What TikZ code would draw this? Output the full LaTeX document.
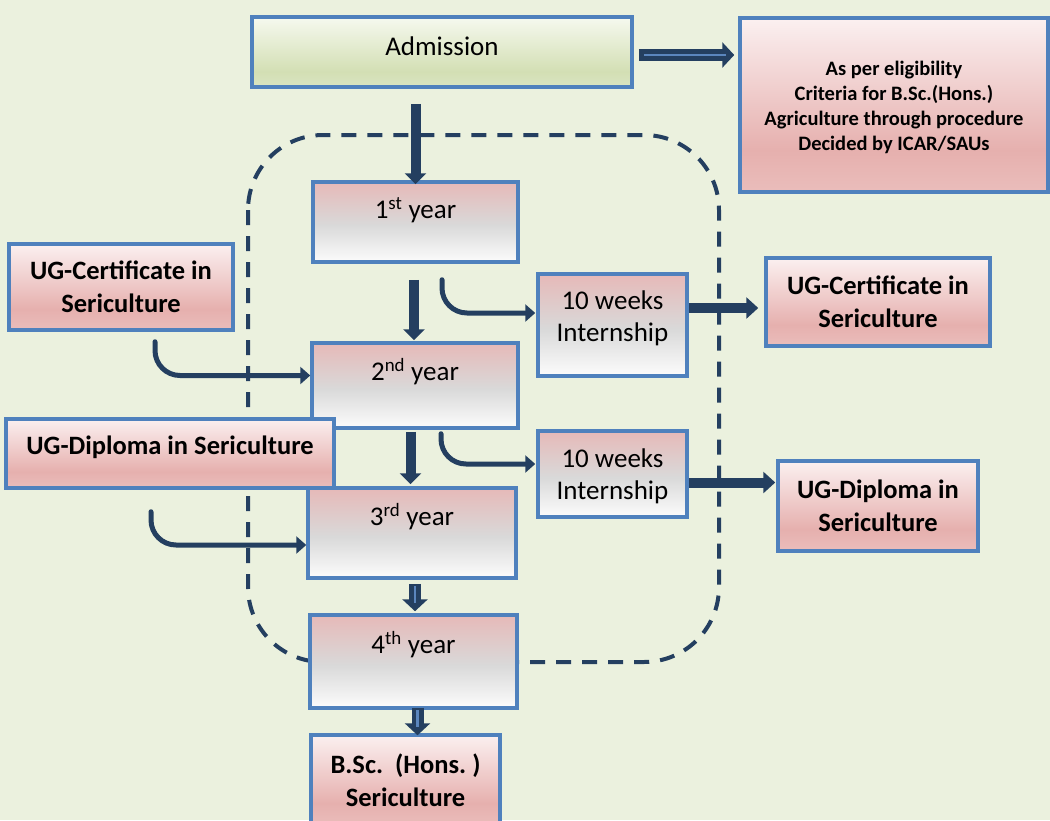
\documentclass[tikz,border=0pt]{standalone}
\usepackage{fontspec}
\setmainfont{Carlito}
\usetikzlibrary{arrows.meta,calc}
\definecolor{bg}{HTML}{EBF1DE}
\definecolor{bord}{HTML}{4F81BD}
\definecolor{navy}{HTML}{243F60}
\definecolor{lite}{HTML}{5B86BE}
\definecolor{yrtop}{HTML}{E6B9B8}
\definecolor{yrmid}{HTML}{D9D9D9}
\definecolor{yrbot}{HTML}{FCFCFC}
\definecolor{pktop}{HTML}{FBF0F0}
\definecolor{pkmid}{HTML}{E6B0AE}
\definecolor{pkbot}{HTML}{EABDBB}
\definecolor{grtop}{HTML}{F6F9EF}
\definecolor{grmid}{HTML}{D3DFB4}
\definecolor{grbot}{HTML}{DAE5C2}
\pgfdeclareverticalshading{yrshade}{100bp}{color(0bp)=(yrbot); color(25bp)=(yrbot); color(48bp)=(yrmid); color(75bp)=(yrtop); color(100bp)=(yrtop)}
\pgfdeclareverticalshading{pkshade}{100bp}{color(0bp)=(pkbot); color(25bp)=(pkbot); color(37bp)=(pkmid); color(75bp)=(pktop); color(100bp)=(pktop)}
\pgfdeclareverticalshading{grshade}{100bp}{color(0bp)=(grbot); color(25bp)=(grbot); color(36bp)=(grmid); color(75bp)=(grtop); color(100bp)=(grtop)}
\tikzset{
  box/.style={draw=bord, line width=3.5pt, inner sep=0pt, align=center},
  yearbox/.style={box, shading=yrshade},
  pinkbox/.style={box, shading=pkshade, font=\bfseries\fontsize{26.5}{33}\selectfont},
  greenbox/.style={box, shading=grshade},
  txt/.style={inner sep=0pt, align=center, font=\fontsize{27}{32}\selectfont},
  btxt/.style={inner sep=0pt, align=center, font=\bfseries\fontsize{26.5}{33}\selectfont},
  downarr/.style={draw=navy, line width=10pt, -{Triangle[length=11pt,width=21pt]}},
  dblarr/.style={draw=navy, line width=12pt, -{Triangle[length=12pt,width=25pt]}},
  inln/.style={draw=lite, line width=2.5pt},
  rarr/.style={draw=navy, line width=10pt, -{Triangle[length=12pt,width=21pt]}},
  curvearr/.style={draw=navy, line width=5pt, rounded corners=25pt, line cap=round, -{Triangle[length=10pt,width=17pt]}},
  dashbox/.style={draw=navy, line width=4pt, dash pattern=on 15pt off 11pt, rounded corners=75pt}
}
\begin{document}
\begin{tikzpicture}[x=1pt,y=-1pt]
\useasboundingbox (0,0) rectangle (1050,820);
\clip (0,0) rectangle (1050,820);
\fill[bg] (0,0) rectangle (1050,820);
% dashed region
\draw[dashbox] (248,135) rectangle (719,662);
% boxes
\node[greenbox, minimum width=380pt, minimum height=70pt] (adm) at (442,52) {};
\node[txt] (admt) at (442,46) {Admission};
\node[pinkbox, minimum width=308pt, minimum height=174pt] (elig) at (894,105) {};
\node[inner sep=0pt, align=center, font=\bfseries\fontsize{20.5}{25}\selectfont] (eligt) at (894,107.5) {As per eligibility\\Criteria for B.Sc.(Hons.)\\Agriculture through procedure\\Decided by ICAR/SAUs};
\node[yearbox, minimum width=205pt, minimum height=80pt] (y1) at (415.5,222) {};
\node[txt] (y1t) at (415.5,210) {1\textsuperscript{st} year};
\node[yearbox, minimum width=149pt, minimum height=102pt] (int1) at (612.5,325) {};
\node[txt] (int1t) at (612.5,318.5) {10 weeks\\Internship};
\node[pinkbox, minimum width=224pt, minimum height=88pt] (certR) at (878,302) {UG-Certificate in\\Sericulture};
\node[pinkbox, minimum width=224pt, minimum height=86pt] (certL) at (121,287) {UG-Certificate in\\Sericulture};
\node[yearbox, minimum width=206pt, minimum height=85pt] (y2) at (415,385.5) {};
\node[txt] (y2t) at (415,372) {2\textsuperscript{nd} year};
\node[yearbox, minimum width=149pt, minimum height=86pt] (int2) at (612.5,474) {};
\node[txt] (int2t) at (612.5,476) {10 weeks\\Internship};
\node[pinkbox, minimum width=200pt, minimum height=90pt] (dipR) at (878,506) {UG-Diploma in\\Sericulture};
\node[yearbox, minimum width=208pt, minimum height=90pt] (y3) at (412,533) {};
\node[txt] (y3t) at (412,517) {3\textsuperscript{rd} year};
\node[pinkbox, minimum width=328pt, minimum height=69pt] (dipL) at (170,453.5) {};
\node[btxt] (dipLt) at (170,447) {UG-Diploma in Sericulture};
\node[yearbox, minimum width=207pt, minimum height=93pt] (y4) at (413.5,661.5) {};
\node[txt] (y4t) at (413.5,645) {4\textsuperscript{th} year};
\node[pinkbox, minimum width=189pt, minimum height=90pt] (bsc) at (405.5,780) {B.Sc.\ \ (Hons.~)\\Sericulture};
% straight arrows
\draw[dblarr] ($(adm.east)+(5,3)$) coordinate (ae1) -- ($(ae1 -| elig.west)+(-4,0)$) coordinate (ae2);
\draw[inln] ($(ae1)+(5,0)$) -- ($(ae2)+(-8,0)$);
\draw[downarr] ($(y1.north |- adm.south)+(0,15)$) -- ($(y1.north)+(0,4)$);
\draw[downarr] ($(y1.south)+(-1.5,16)$) -- ($(y2.north)+(-1,-1)$);
\draw[downarr] ($(y2.south)+(-4.5,2)$) -- ($(y3.north)+(-1.5,-2)$);
\draw[dblarr] ($(y3.south)+(3,4)$) coordinate (y34a) -- ($(y4.north)+(1.5,-2)$) coordinate (y34b);
\draw[inln] ($(y34a)+(0,2)$) -- ($(y34b)+(0,-8)$);
\draw[dblarr] ($(y4.south)+(4,-2)$) coordinate (y4ba) -- ($(bsc.north)+(12,2)$) coordinate (y4bb);
\draw[inln] ($(y4ba)+(0,2)$) -- ($(y4bb)+(0,-8)$);
\draw[rarr] ($(int1.east)+(0,-17)$) coordinate (ic1) -- ($(ic1 -| certR.west)+(-6,0)$);
\draw[rarr] ($(int2.east)+(0,8.5)$) coordinate (id1) -- ($(id1 -| dipR.west)+(-1,0)$);
% curved arrows
\draw[curvearr] ($(y1.south)+(26.5,16)$) |- ($(int1.west)+(-1,-12)$);
\draw[curvearr] ($(certL.south)+(34,10)$) |- ($(y2.west)+(0,-10)$);
\draw[curvearr] ($(y2.south)+(26,4)$) |- ($(int2.west)+(-1,-10)$);
\draw[curvearr] ($(dipL.south)+(-19,22)$) |- ($(y3.west)+(0,12)$);
\end{tikzpicture}
\end{document}
